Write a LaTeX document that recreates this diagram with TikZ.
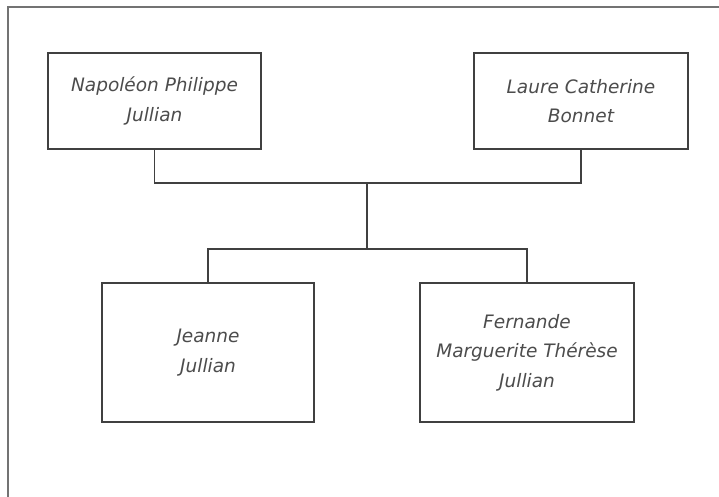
\documentclass[tikz,border=0pt]{standalone}
\usepackage{fontspec}
\setmainfont{Lato}
\newfontfamily\handfont{DejaVu Sans}
\usetikzlibrary{positioning}

\begin{document}
\begin{tikzpicture}[x=1pt,y=-1pt,line join=miter,
  person/.style={draw=black!75,line width=1.6pt,fill=white,align=center,
    text=black!70,font=\handfont\itshape\fontsize{18.5}{29.5}\selectfont,inner sep=0pt},
  link/.style={draw=black!75,line width=1.6pt}]
  \useasboundingbox (0,0) rectangle (719,497);
  \draw[black!55,line width=2pt] (8,497) -- (8,7) -- (719,7);

  \node[person,minimum width=213pt,minimum height=96pt] (nap) at (154.5,101) {Napoléon Philippe\\Jullian};
  \node[person,minimum width=214pt,minimum height=96pt] (laure) at (581,101) {Laure Catherine\\Bonnet};
  \node[person,minimum width=212pt,minimum height=139pt] (jeanne) at (208,352.5) {Jeanne\\Jullian};
  \node[person,minimum width=214pt,minimum height=139pt] (fern) at (527,352.5) {Fernande\\Marguerite Thérèse\\Jullian};

  \coordinate (couple) at (367,183);
  \coordinate (kids) at (367,249);
  \draw[link] (nap.south) |- (couple) -| (laure.south);
  \draw[link] (couple) -- (kids);
  \draw[link] (jeanne.north) |- (kids) -| (fern.north);
\end{tikzpicture}
\end{document}
